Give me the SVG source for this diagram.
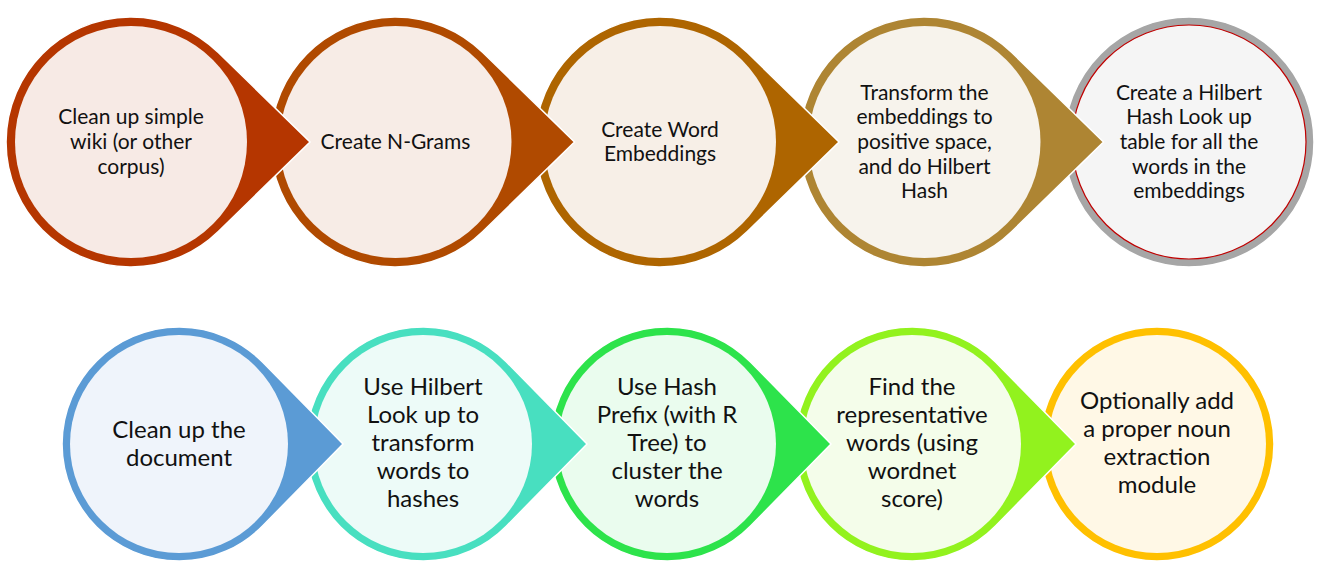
<svg xmlns="http://www.w3.org/2000/svg" xmlns:xlink="http://www.w3.org/1999/xlink" width="1321" height="577" viewBox="0 0 1321 577">
<style>
.t{font-family:Lato,"Liberation Sans",sans-serif;fill:#111;text-anchor:middle}
.ts{font-size:21px}
.tb{font-size:24px}
.edge{stroke:#fff;stroke-width:1.5}
</style>
<defs>
<path id="tdTop" d="M87.3,-89.5 L179,0 L87.3,89.5 A125,125 0 1 1 87.3,-89.5 Z"/>
<path id="tdBot" d="M83.5,-82 L164,0 L83.5,82 A117,117 0 1 1 83.5,-82 Z"/>
</defs>
<rect width="1321" height="577" fill="#fff"/>
<g id="connectors"/>
<g id="n5" transform="translate(1189,142)">
<circle r="125" fill="#A6A6A6" class="edge"/>
<circle r="117" fill="#F5F5F5" stroke="#C00000" stroke-width="1.2"/>
<text class="t ts"><tspan x="0" y="-42.4">Create a Hilbert</tspan><tspan x="0" y="-17.7">Hash Look up</tspan><tspan x="0" y="7">table for all the</tspan><tspan x="0" y="31.7">words in the</tspan><tspan x="0" y="56.4">embeddings</tspan></text>
</g>
<g id="n4" transform="translate(924.5,142)">
<use xlink:href="#tdTop" fill="#AE8533" class="edge"/>
<circle r="116" fill="#F7F3EC"/>
<text class="t ts"><tspan x="0" y="-42.4">Transform the</tspan><tspan x="0" y="-17.7">embeddings to</tspan><tspan x="0" y="7">positive space,</tspan><tspan x="0" y="31.7">and do Hilbert</tspan><tspan x="0" y="56.4">Hash</tspan></text>
</g>
<g id="n3" transform="translate(660,142)">
<use xlink:href="#tdTop" fill="#AE6500" class="edge"/>
<circle r="116" fill="#F7EFE7"/>
<text class="t ts"><tspan x="0" y="-5.4">Create Word</tspan><tspan x="0" y="19.4">Embeddings</tspan></text>
</g>
<g id="n2" transform="translate(395.5,142)">
<use xlink:href="#tdTop" fill="#B04A00" class="edge"/>
<circle r="116" fill="#F7ECE6"/>
<text class="t ts"><tspan x="0" y="7">Create N-Grams</tspan></text>
</g>
<g id="n1" transform="translate(131,142)">
<use xlink:href="#tdTop" fill="#B53600" class="edge"/>
<circle r="116" fill="#F7EAE5"/>
<text class="t ts"><tspan x="0" y="-17.7">Clean up simple</tspan><tspan x="0" y="7">wiki (or other</tspan><tspan x="0" y="31.7">corpus)</tspan></text>
</g>
<g id="m5" transform="translate(1157,444)">
<circle r="117" fill="#FFC000" class="edge"/>
<circle r="109" fill="#FFF8E6"/>
<text class="t tb"><tspan x="0" y="-35">Optionally add</tspan><tspan x="0" y="-7">a proper noun</tspan><tspan x="0" y="21">extraction</tspan><tspan x="0" y="49">module</tspan></text>
</g>
<g id="m4" transform="translate(912,444)">
<use xlink:href="#tdBot" fill="#92F21E" class="edge"/>
<circle r="109" fill="#F4FDEA"/>
<text class="t tb"><tspan x="0" y="-49">Find the</tspan><tspan x="0" y="-21">representative</tspan><tspan x="0" y="7">words (using</tspan><tspan x="0" y="35">wordnet</tspan><tspan x="0" y="63">score)</tspan></text>
</g>
<g id="m3" transform="translate(667,444)">
<use xlink:href="#tdBot" fill="#2DE34B" class="edge"/>
<circle r="109" fill="#EAFCEE"/>
<text class="t tb"><tspan x="0" y="-49">Use Hash</tspan><tspan x="0" y="-21">Prefix (with R</tspan><tspan x="0" y="7">Tree) to</tspan><tspan x="0" y="35">cluster the</tspan><tspan x="0" y="63">words</tspan></text>
</g>
<g id="m2" transform="translate(423,444)">
<use xlink:href="#tdBot" fill="#48DFC0" class="edge"/>
<circle r="109" fill="#EDFBF8"/>
<text class="t tb"><tspan x="0" y="-49">Use Hilbert</tspan><tspan x="0" y="-21">Look up to</tspan><tspan x="0" y="7">transform</tspan><tspan x="0" y="35">words to</tspan><tspan x="0" y="63">hashes</tspan></text>
</g>
<g id="m1" transform="translate(179,444)">
<use xlink:href="#tdBot" fill="#5B9BD5" class="edge"/>
<circle r="109" fill="#EFF4FB"/>
<text class="t tb"><tspan x="0" y="-6">Clean up the</tspan><tspan x="0" y="22">document</tspan></text>
</g>
</svg>
